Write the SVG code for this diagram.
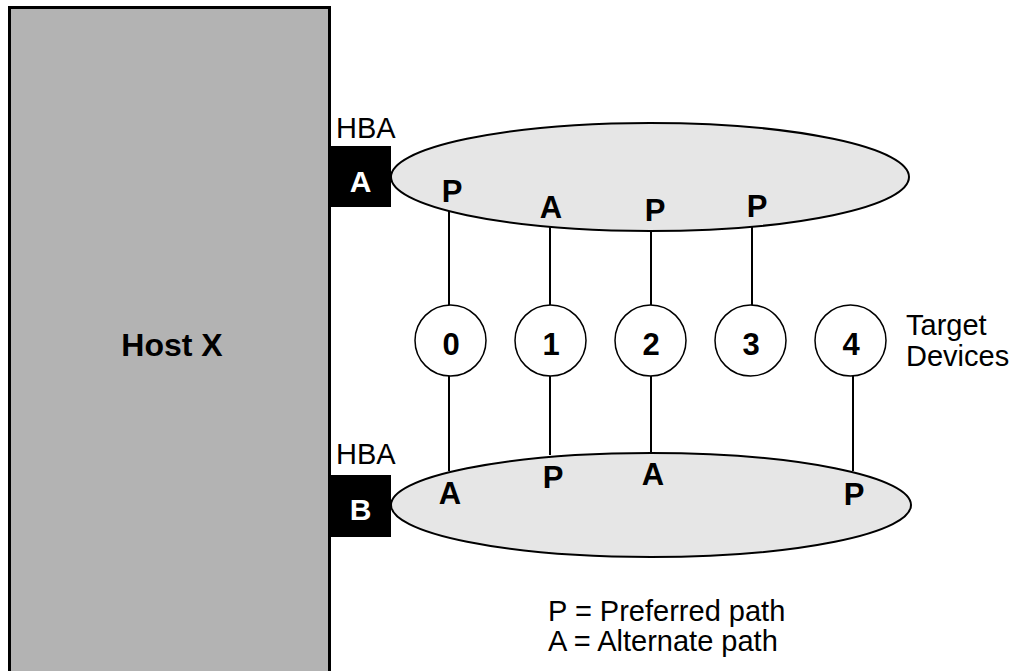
<svg xmlns="http://www.w3.org/2000/svg" width="1013" height="671" viewBox="0 0 1013 671">
<style>
.reg{font-family:"Liberation Sans",Arial,sans-serif;font-size:29px;fill:#000}
.bold{font-family:"Liberation Sans",Arial,sans-serif;font-size:31px;font-weight:bold;fill:#000;text-anchor:middle}
.wbold{font-family:"Liberation Sans",Arial,sans-serif;font-size:30px;font-weight:bold;fill:#fff;text-anchor:middle}
.conn{stroke:#000;stroke-width:2;fill:none}
.dev{fill:#fff;stroke:#000;stroke-width:1.5}
.fabric{fill:#e6e6e6;stroke:#000;stroke-width:2}
</style>
<rect width="1013" height="671" fill="#fff"/>
<g id="host">
<rect x="9.5" y="7.5" width="320" height="680" fill="#b3b3b3" stroke="#000" stroke-width="3"/>
<text class="bold" x="172" y="356" style="font-size:32px">Host X</text>
</g>
<g id="fabric-top"><ellipse class="fabric" cx="650" cy="177" rx="259" ry="54"/></g>
<g id="fabric-bottom"><ellipse class="fabric" cx="651" cy="505" rx="260" ry="52"/></g>
<g id="hba-a">
<rect x="330" y="146" width="61" height="61" fill="#000"/>
<text class="wbold" x="360.5" y="192">A</text>
<text class="reg" x="336" y="138">HBA</text>
</g>
<g id="hba-b">
<rect x="330" y="475" width="61" height="62" fill="#000"/>
<text class="wbold" x="360.5" y="520">B</text>
<text class="reg" x="336" y="464">HBA</text>
</g>
<g id="connectors">
<line class="conn" x1="449" y1="211" x2="449" y2="305"/>
<line class="conn" x1="550" y1="227" x2="550" y2="305"/>
<line class="conn" x1="651" y1="231" x2="651" y2="305"/>
<line class="conn" x1="752" y1="227" x2="752" y2="305"/>
<line class="conn" x1="449" y1="376" x2="449" y2="471"/>
<line class="conn" x1="550" y1="376" x2="550" y2="455"/>
<line class="conn" x1="651" y1="376" x2="651" y2="453"/>
<line class="conn" x1="853" y1="376" x2="853" y2="471"/>
</g>
<g id="dev0"><circle class="dev" cx="450.5" cy="340.5" r="35.5"/><text class="bold" x="451" y="355">0</text></g>
<g id="dev1"><circle class="dev" cx="550.5" cy="340.5" r="35.5"/><text class="bold" x="551" y="355">1</text></g>
<g id="dev2"><circle class="dev" cx="650.5" cy="340.5" r="35.5"/><text class="bold" x="651" y="355">2</text></g>
<g id="dev3"><circle class="dev" cx="750.5" cy="340.5" r="35.5"/><text class="bold" x="751" y="355">3</text></g>
<g id="dev4"><circle class="dev" cx="850.5" cy="340.5" r="35.5"/><text class="bold" x="851" y="355">4</text></g>
<g id="path-labels">
<text class="bold" x="452" y="202">P</text>
<text class="bold" x="551" y="218">A</text>
<text class="bold" x="655" y="221">P</text>
<text class="bold" x="757" y="217">P</text>
<text class="bold" x="450" y="504">A</text>
<text class="bold" x="553" y="488">P</text>
<text class="bold" x="653" y="485">A</text>
<text class="bold" x="854" y="505">P</text>
</g>
<g id="target-label">
<text class="reg" x="906" y="335">Target</text>
<text class="reg" x="906" y="366">Devices</text>
</g>
<g id="legend">
<text class="reg" x="548" y="621">P = Preferred path</text>
<text class="reg" x="548" y="651">A = Alternate path</text>
</g>
</svg>
